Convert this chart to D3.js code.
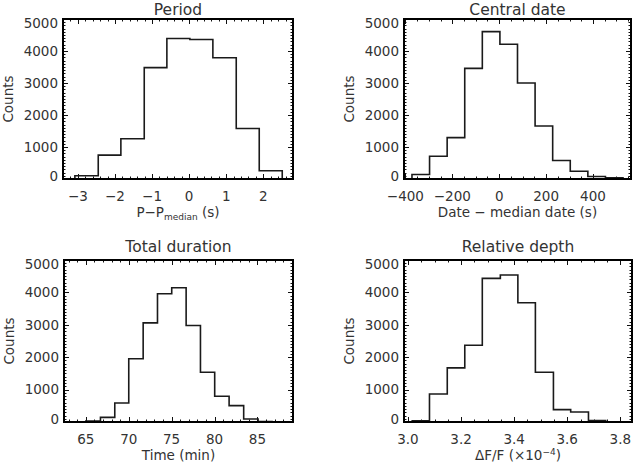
<!DOCTYPE html>
<html><head><meta charset="utf-8">
<script src="https://cdn.jsdelivr.net/npm/d3@7"></script>
<style>
html,body{margin:0;padding:0;background:#fff;}
svg{display:block;}
text{font-family:"DejaVu Sans",sans-serif;fill:#333;}
</style></head>
<body>
<svg id="chart" width="636" height="472"></svg>
<script>
// ---------- data ----------
const titles = ["Period", "Central date", "Total duration", "Relative depth"];

const periodEdges  = [-3.08, -2.45, -1.84, -1.21, -0.60, 0.02, 0.64, 1.27, 1.89, 2.51];
const periodCounts = [100, 745, 1260, 3480, 4390, 4360, 3790, 1580, 260];
const periodTicks  = [-3, -2, -1, 0, 1, 2];

const dateEdges  = [-372, -297, -222, -147, -72, 3, 78, 153, 228, 303, 378, 453, 528];
const dateCounts = [140, 710, 1294, 3458, 4607, 4213, 3002, 1656, 580, 240, 80, 35];
const dateTicks  = [-400, -200, 0, 200, 400];

const durationEdges  = [64.99, 66.70, 68.37, 70.00, 71.68, 73.35, 75.01, 76.69, 78.36, 80.02, 81.70, 83.40, 85.08, 86.71];
const durationCounts = [30, 144, 588, 1950, 3060, 3960, 4145, 2980, 1536, 794, 505, 93, 12];
const durationTicks  = [65, 70, 75, 80, 85];

const depthEdges  = [3.016, 3.081, 3.148, 3.214, 3.280, 3.348, 3.414, 3.480, 3.548, 3.613, 3.680, 3.745];
const depthCounts = [40, 866, 1670, 2371, 4433, 4536, 3680, 1536, 381, 309, 41];
const depthTicks  = [3.0, 3.2, 3.4, 3.6, 3.8];

const countTicks = [0, 1000, 2000, 3000, 4000, 5000];

// ---------- layout ----------
const svg = d3.select("#chart");
const panels = [
  {title: titles[0], edges: periodEdges, counts: periodCounts, ticks: periodTicks, fmt: d => d3.format("d")(d).replace("-", "\u2212"),
   dom: [-3.4, 2.8], minor: 0.2, box: {x0: 63, x1: 293, y0: 19, y1: 179}, xlab: "period"},
  {title: titles[1], edges: dateEdges, counts: dateCounts, ticks: dateTicks, fmt: d => d3.format("d")(d).replace("-", "\u2212"),
   dom: [-406, 562], minor: 50, box: {x0: 404, x1: 631, y0: 19, y1: 179}, xlab: "date"},
  {title: titles[2], edges: durationEdges, counts: durationCounts, ticks: durationTicks, fmt: d3.format("d"),
   dom: [62.45, 89.15], minor: 1, box: {x0: 64, x1: 293, y0: 260, y1: 422}, xlab: "duration"},
  {title: titles[3], edges: depthEdges, counts: depthCounts, ticks: depthTicks, fmt: d3.format(".1f"),
   dom: [2.985, 3.844], minor: 0.05, box: {x0: 404, x1: 632, y0: 260, y1: 422}, xlab: "depth"}
];

panels.forEach((p, pi) => {
  const b = p.box;
  const x = d3.scaleLinear().domain(p.dom).range([b.x0, b.x1]);
  const y = d3.scaleLinear().domain([0, 5000]).range([b.y1, b.y0]);
  const g = svg.append("g");

  // minor ticks
  const xmin = d3.range(Math.ceil(p.dom[0] / p.minor), Math.floor(p.dom[1] / p.minor) + 1).map(k => k * p.minor);
  const ymin = d3.range(0, 5001, 100);
  const tk = g.append("g").attr("stroke", "#111").attr("stroke-width", 1);
  xmin.forEach(v => {
    const xx = Math.round(x(v)) + 0.5;
    tk.append("line").attr("x1", xx).attr("x2", xx).attr("y1", b.y1).attr("y2", b.y1 - 2.5);
    tk.append("line").attr("x1", xx).attr("x2", xx).attr("y1", b.y0).attr("y2", b.y0 + 2.5);
  });
  ymin.forEach(v => {
    const yy = Math.round(y(v)) + 0.5;
    tk.append("line").attr("x1", b.x0).attr("x2", b.x0 + 2.5).attr("y1", yy).attr("y2", yy);
    tk.append("line").attr("x1", b.x1).attr("x2", b.x1 - 2.5).attr("y1", yy).attr("y2", yy);
  });
  // major ticks
  p.ticks.forEach(v => {
    const xx = Math.round(x(v)) + 0.5;
    tk.append("line").attr("x1", xx).attr("x2", xx).attr("y1", b.y1).attr("y2", b.y1 - 5);
    tk.append("line").attr("x1", xx).attr("x2", xx).attr("y1", b.y0).attr("y2", b.y0 + 5);
  });
  countTicks.forEach(v => {
    const yy = Math.round(y(v)) + 0.5;
    tk.append("line").attr("x1", b.x0).attr("x2", b.x0 + 5).attr("y1", yy).attr("y2", yy);
    tk.append("line").attr("x1", b.x1).attr("x2", b.x1 - 5).attr("y1", yy).attr("y2", yy);
  });

  // histogram outline
  let d = `M${x(p.edges[0])},${y(0)}`;
  p.counts.forEach((c, i) => {
    d += `V${y(c)}H${x(p.edges[i + 1])}`;
  });
  d += `V${y(0)}`;
  g.append("path").attr("d", d).attr("fill", "none").attr("stroke", "#1a1a1a").attr("stroke-width", 1.6);

  // box
  g.append("rect").attr("x", b.x0).attr("y", b.y0).attr("width", b.x1 - b.x0).attr("height", b.y1 - b.y0)
    .attr("fill", "none").attr("stroke", "#000").attr("stroke-width", 2);

  // y tick labels
  countTicks.forEach(v => {
    let yy = y(v);
    if (v === 0) yy -= 3.3;
    if (v === 5000) yy += 4.3;
    g.append("text").attr("x", b.x0 - 5).attr("y", yy).attr("dy", "0.36em")
      .attr("text-anchor", "end").attr("font-size", 13.5).text(v);
  });
  // x tick labels
  p.ticks.forEach(v => {
    g.append("text").attr("x", x(v)).attr("y", b.y1 + 21.5)
      .attr("text-anchor", "middle").attr("font-size", 13.5).text(p.fmt(v));
  });
  // y axis title
  g.append("text").attr("transform", `translate(${b.x0 - 50},${(b.y0 + b.y1) / 2}) rotate(-90)`)
    .attr("text-anchor", "middle").attr("font-size", 13.5).text("Counts");
  // panel title
  g.append("text").attr("x", (b.x0 + b.x1) / 2).attr("y", pi < 2 ? 14.8 : b.y0 - 8)
    .attr("text-anchor", "middle").attr("font-size", 15.5).text(p.title);
  // x axis title
  const xt = g.append("text").attr("x", (b.x0 + b.x1) / 2).attr("y", b.y1 + 38)
    .attr("text-anchor", "middle").attr("font-size", 13.5);
  if (p.xlab === "period") {
    xt.append("tspan").text("P\u2212P");
    xt.append("tspan").attr("font-size", 9).attr("dy", 3).text("median");
    xt.append("tspan").attr("dy", -3).text("\u00a0(s)");
  } else if (p.xlab === "date") {
    xt.text("Date \u2212 median date (s)");
  } else if (p.xlab === "duration") {
    xt.text("Time (min)");
  } else {
    xt.append("tspan").text("\u0394F/F (\u00d710");
    xt.append("tspan").attr("font-size", 9).attr("dy", -5).text("\u22124");
    xt.append("tspan").attr("dy", 5).text(")");
  }
});
</script>
</body></html>
